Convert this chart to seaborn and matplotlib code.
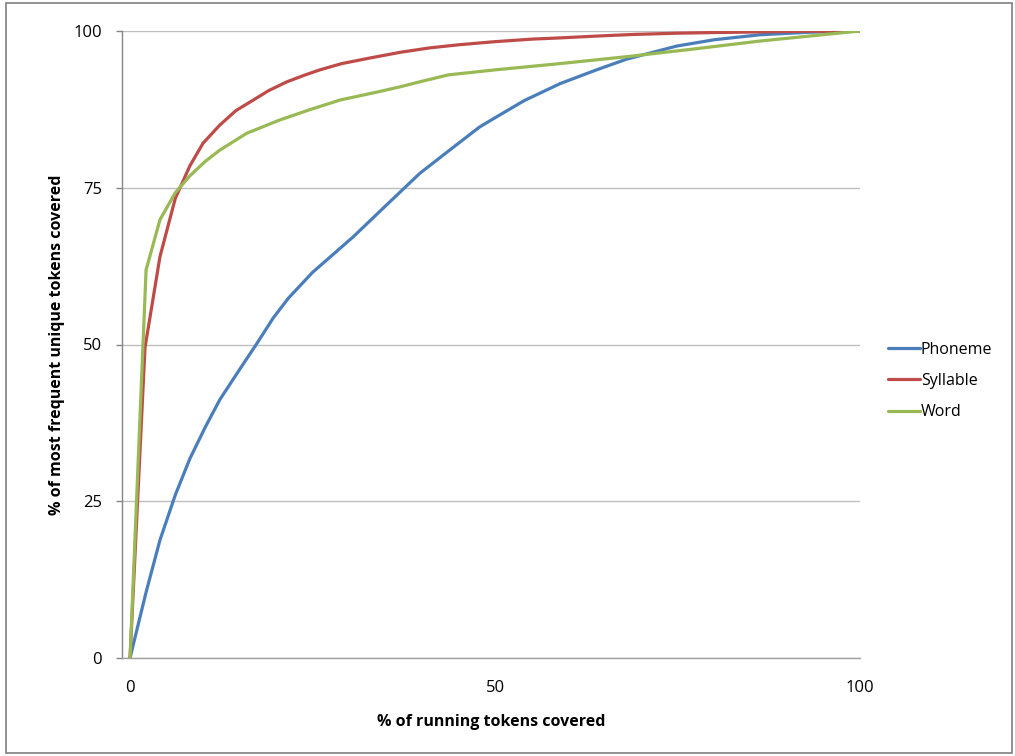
import matplotlib
matplotlib.use("Agg")
import matplotlib.pyplot as plt
import seaborn as sns
import pandas as pd
from matplotlib.patches import Rectangle
from matplotlib.lines import Line2D

series_names = ["Phoneme", "Syllable", "Word"]

phoneme_x = [0, 2.2, 4.1, 6.2, 8.2, 10.3, 12.3, 15, 17.4, 19.6, 21.7, 25, 30.6, 35, 39.7, 44,
             47.9, 50.2, 54, 58.9, 63.9, 68, 74.9, 80, 86.3, 93, 100]
phoneme_y = [0, 10.5, 18.8, 26, 31.8, 36.8, 41.2, 46, 50.2, 54.2, 57.4, 61.5, 67.2, 72.1, 77.3, 81.2,
             84.7, 86.3, 88.9, 91.6, 93.8, 95.5, 97.6, 98.6, 99.4, 99.8, 100]

syllable_x = [0, 2.05, 4.1, 6.2, 8.2, 10.0, 12.3, 14.5, 16.9, 19, 21.5, 24, 26, 29, 32.9, 37, 41,
              45, 50, 55, 58.9, 65, 69, 75, 80, 86.3, 92, 100]
syllable_y = [0, 49.5, 64.0, 73.3, 78.5, 82.1, 85.0, 87.3, 89.0, 90.5, 91.9, 93.0, 93.8, 94.8, 95.7,
              96.6, 97.3, 97.8, 98.3, 98.7, 98.9, 99.25, 99.45, 99.65, 99.75, 99.85, 99.95, 100]

word_x = [0, 2.2, 4.1, 6.2, 8.2, 10.3, 12.3, 16, 20.5, 24.5, 28.8, 34, 37, 39.7, 43.6, 50, 58.9,
          68, 77, 86.3, 100]
word_y = [0, 61.9, 69.9, 74.2, 76.9, 79.2, 81.0, 83.7, 85.8, 87.4, 89.0, 90.3, 91.1, 91.9, 93.0,
          93.8, 94.8, 95.9, 97.1, 98.4, 100]

x_ticks = [0, 50, 100]
y_ticks = [0, 25, 50, 75, 100]
colors = ["#4A7EBB", "#BE4B48", "#98B954"]

rows = []
for name, xs, ys in zip(series_names, [phoneme_x, syllable_x, word_x], [phoneme_y, syllable_y, word_y]):
    for i, (a, b) in enumerate(zip(xs, ys)):
        rows.append({"series": name, "x": a, "y": b, "order": i})
df = pd.DataFrame(rows)

sns.set_theme(style="white")
plt.rcParams["font.family"] = ["Open Sans", "DejaVu Sans"]
plt.rcParams["text.color"] = "black"
plt.rcParams["axes.labelcolor"] = "black"
plt.rcParams["xtick.color"] = "black"
plt.rcParams["ytick.color"] = "black"

fig = plt.figure(figsize=(10.15, 7.56), dpi=100)
ax = fig.add_axes([122 / 1015, 1 - 658 / 756, (860 - 122) / 1015, (658 - 31) / 756])

sns.lineplot(data=df, x="x", y="y", hue="series", hue_order=series_names, palette=colors,
             sort=False, estimator=None, linewidth=2.3, ax=ax, legend=False, zorder=3)

ax.set_xlim(-1.1, 100)
ax.set_ylim(0, 100)
ax.set_xticks(x_ticks)
ax.set_yticks(y_ticks)
ax.set_xticklabels([str(t) for t in x_ticks])
ax.set_yticklabels([str(t) for t in y_ticks])
ax.grid(axis="y", color="#BEBEBE", linewidth=1.0, zorder=0)
ax.grid(axis="x", visible=False)
for s in ["top", "right"]:
    ax.spines[s].set_visible(False)
ax.spines["left"].set_color("#868686")
ax.spines["bottom"].set_color("#A0A0A0")
ax.spines["left"].set_linewidth(1.0)
ax.spines["bottom"].set_linewidth(1.0)
ax.tick_params(axis="y", direction="out", length=4.5, width=1.0, color="#868686",
               labelcolor="black", labelsize=12, pad=10, left=True)
ax.tick_params(axis="x", length=0, labelsize=12, labelcolor="black", pad=16)

ax.set_xlabel("% of running tokens covered", fontsize=11.5, fontweight="bold", labelpad=13)
ax.set_ylabel("% of most frequent unique tokens covered", fontsize=11.5, fontweight="bold", labelpad=6)

handles = [Line2D([0], [0], color=c, lw=2.3) for c in colors]
fig.legend(handles, series_names, loc="center left", bbox_to_anchor=(888 / 1015, 1 - 381 / 756),
           frameon=False, fontsize=11.5, handlelength=2.0, handletextpad=0.05, labelspacing=0.95,
           borderaxespad=0, borderpad=0)

fig.add_artist(Rectangle((6 / 1015, 3 / 756), 1006 / 1015, 750 / 756, transform=fig.transFigure,
                         fill=False, edgecolor="#7F7F7F", linewidth=1.2))

fig.savefig("out.png", dpi=100)
